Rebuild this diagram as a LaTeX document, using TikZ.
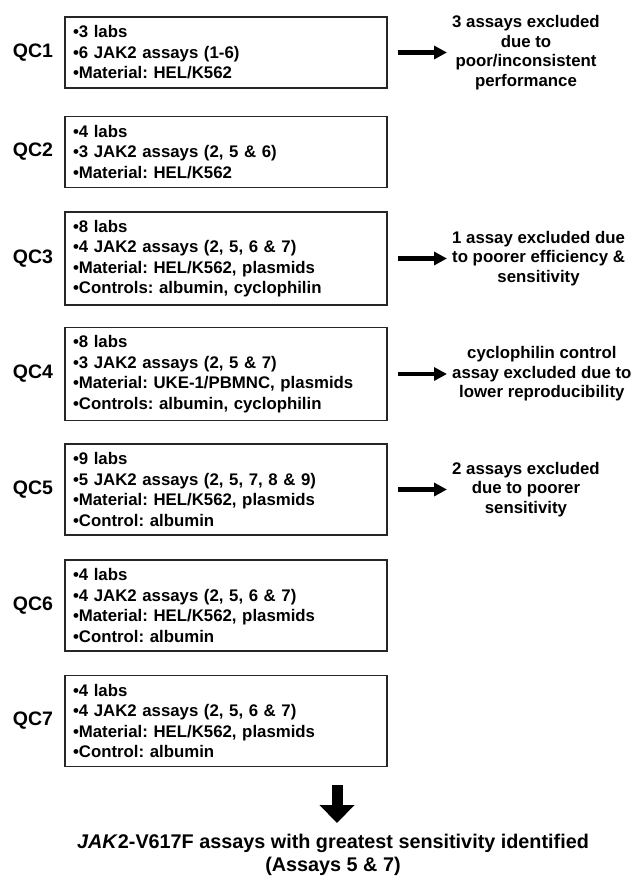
\documentclass[tikz,border=0pt]{standalone}
\usepackage{fontspec}
\setmainfont{Liberation Sans}
\usetikzlibrary{arrows.meta}
\frenchspacing
\begin{document}
\begin{tikzpicture}[x=1pt,y=-1pt,
  qcbox/.style={draw=black!85, line width=1.6pt, minimum width=322pt, text width=306pt,
    inner sep=8pt, align=left, font=\fontsize{16.8}{20.5}\selectfont\bfseries, anchor=center},
  qcthree/.style={qcbox, minimum height=71pt},
  qcfour/.style={qcbox, minimum height=91pt},
  qclabel/.style={font=\fontsize{19.5}{22}\selectfont\bfseries, inner sep=0pt},
  note/.style={anchor=west, align=center, font=\fontsize{16.8}{19.5}\selectfont\bfseries, inner sep=0pt},
  arr/.style={line width=4.5pt, -{Triangle[length=13pt,width=13pt]}},
  bigarr/.style={line width=11pt, -{Triangle[length=18pt,width=34pt]}},
  title/.style={align=center, font=\fontsize{19.8}{22.5}\selectfont\bfseries, inner sep=0pt}
]
\useasboundingbox (0,0) rectangle (637,878);

\node[qcthree] (b1) at (226,52.5) {•3 labs\\•6 JAK2 assays (1-6)\\•Material: HEL/K562};
\node[qclabel] (l1) at (33,52.5) {QC1};
\node[note] (r1) at (452,52.5) {3 assays excluded\\due to\\poor/inconsistent\\performance};
\draw[arr] ([xshift=10pt]b1.east) -- ([xshift=-5pt]r1.west);

\node[qcthree] (b2) at (226,152) {•4 labs\\•3 JAK2 assays (2, 5 \& 6)\\•Material: HEL/K562};
\node[qclabel] (l2) at (33,152) {QC2};

\node[qcfour] (b3) at (226,258.5) {•8 labs\\•4 JAK2 assays (2, 5, 6 \& 7)\\•Material: HEL/K562, plasmids\\•Controls: albumin, cyclophilin};
\node[qclabel] (l3) at (33,258.5) {QC3};
\node[note] (r3) at (452,258.5) {1 assay excluded due\\to poorer efficiency \&\\sensitivity};
\draw[arr] ([xshift=10pt]b3.east) -- ([xshift=-5pt]r3.west);

\node[qcfour] (b4) at (226,374) {•8 labs\\•3 JAK2 assays (2, 5 \& 7)\\•Material: UKE-1/PBMNC, plasmids\\•Controls: albumin, cyclophilin};
\node[qclabel] (l4) at (33,374) {QC4};
\node[note] (r4) at (452,374) {cyclophilin control\\assay excluded due to\\lower reproducibility};
\draw[arr] ([xshift=10pt]b4.east) -- ([xshift=-5pt]r4.west);

\node[qcfour] (b5) at (226,489.5) {•9 labs\\•5 JAK2 assays (2, 5, 7, 8 \& 9)\\•Material: HEL/K562, plasmids\\•Control: albumin};
\node[qclabel] (l5) at (33,489.5) {QC5};
\node[note] (r5) at (452,489.5) {2 assays excluded\\due to poorer\\sensitivity};
\draw[arr] ([xshift=10pt]b5.east) -- ([xshift=-5pt]r5.west);

\node[qcfour] (b6) at (226,605.5) {•4 labs\\•4 JAK2 assays (2, 5, 6 \& 7)\\•Material: HEL/K562, plasmids\\•Control: albumin};
\node[qclabel] (l6) at (33,605.5) {QC6};

\node[qcfour] (b7) at (226,721) {•4 labs\\•4 JAK2 assays (2, 5, 6 \& 7)\\•Material: HEL/K562, plasmids\\•Control: albumin};
\node[qclabel] (l7) at (33,721) {QC7};

\node[title] (t) at (333,855) {\textit{JAK}2-V617F assays with greatest sensitivity identified\\(Assays 5 \& 7)};
\coordinate (bs) at (337,785);
\coordinate (bt) at (337,823);
\draw[bigarr] (bs) -- (bt);
\end{tikzpicture}
\end{document}
